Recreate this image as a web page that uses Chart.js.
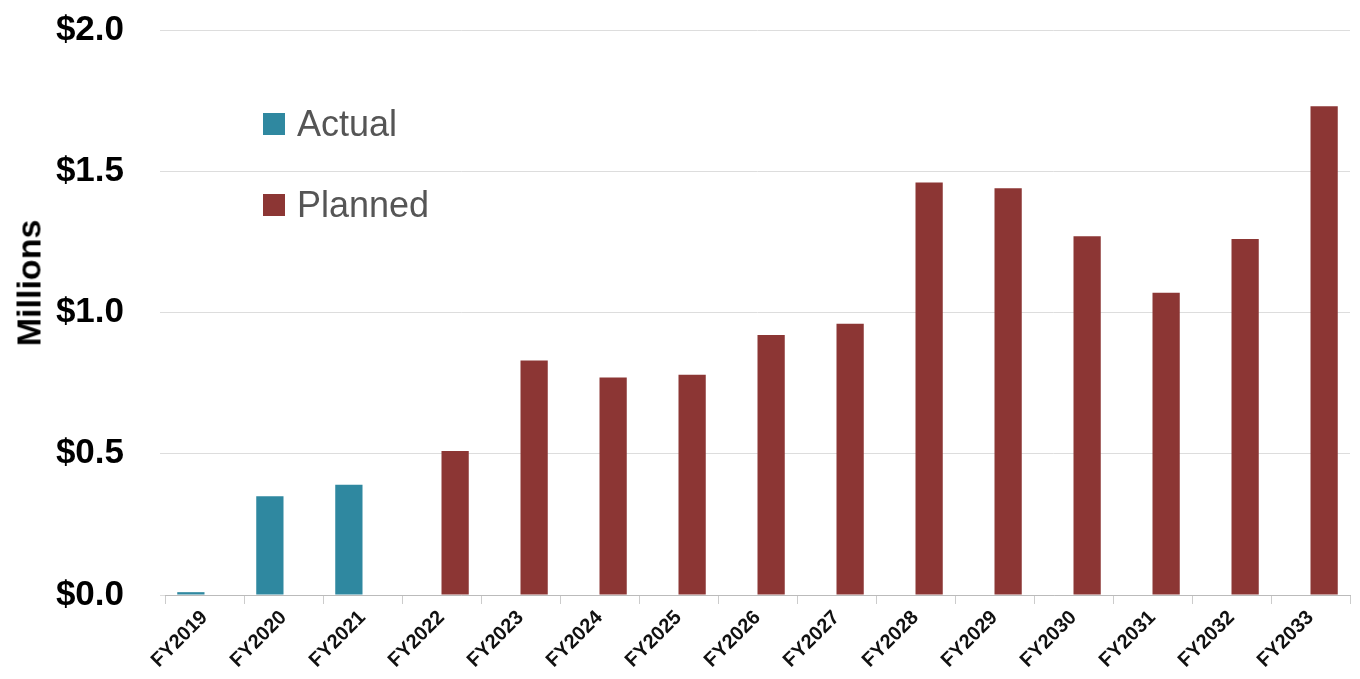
<!DOCTYPE html>
<html>
<head>
<meta charset="utf-8">
<script src="https://cdn.jsdelivr.net/npm/chart.js@4.4.1/dist/chart.umd.min.js"></script>
<style>
  body { margin: 0; background: #fff; }
  #wrap { position: relative; width: 1360px; height: 679px; }
  .legend { position: absolute; left: 263px; font-family: 'Liberation Sans', Arial, sans-serif; font-size: 36px; color: #555; display: flex; align-items: center; }
  .legend span.box { display: inline-block; width: 22px; height: 22px; margin-right: 12px; }
  #ytitle { position: absolute; left: 29px; top: 283px; transform: translate(-50%, -50%) rotate(-90deg);
            font-family: 'Liberation Sans', Arial, sans-serif; font-weight: bold; font-size: 34px; color: #000; white-space: nowrap; }
</style>
</head>
<body>
<div id="wrap">
  <canvas id="chart" width="1360" height="679"></canvas>
  <div class="legend" style="top:103px"><span class="box" style="background:#2f88a0"></span>Actual</div>
  <div class="legend" style="top:184px"><span class="box" style="background:#8c3634"></span>Planned</div>
  <div id="ytitle">Millions</div>
</div>
<script>
document.addEventListener('DOMContentLoaded', () => {

  // --- données ---
  const years = ['FY2019', 'FY2020', 'FY2021', 'FY2022', 'FY2023', 'FY2024', 'FY2025', 'FY2026',
                 'FY2027', 'FY2028', 'FY2029', 'FY2030', 'FY2031', 'FY2032', 'FY2033'];
  const actual = [0.01, 0.35, 0.39, null, null, null, null, null, null, null, null, null, null, null, null];
  const planned = [null, null, null, 0.51, 0.83, 0.77, 0.78, 0.92, 0.96, 1.46, 1.44, 1.27, 1.07, 1.26, 1.73];
  const yTicks = [0, 0.5, 1.0, 1.5, 2.0];

  const sans = "'Liberation Sans', Arial, sans-serif";

  new Chart(document.querySelector('#chart'), {
    type: 'bar',
    data: {
      labels: years,
      datasets: [
        { label: 'Actual', data: actual, backgroundColor: '#2f88a0', categoryPercentage: 0.69, barPercentage: 1.0 },
        { label: 'Planned', data: planned, backgroundColor: '#8c3634', categoryPercentage: 0.69, barPercentage: 1.0 }
      ]
    },
    options: {
      responsive: false,
      animation: false,
      layout: { padding: { top: 30, right: 10, left: 0, bottom: 0 } },
      plugins: { legend: { display: false }, tooltip: { enabled: false } },
      scales: {
        x: {
          grid: { offset: true, drawOnChartArea: false, tickLength: 9, color: '#cccccc' },
          border: { color: '#bbbbbb' },
          ticks: {
            minRotation: 45, maxRotation: 45, padding: 2, color: '#111',
            font: { family: sans, size: 20, weight: 'bold' }
          },
          afterFit: (s) => { s.height = 84; s.paddingLeft = 0; s.paddingRight = 0; }
        },
        y: {
          min: 0, max: 2,
          afterBuildTicks: (s) => { s.ticks = yTicks.map(v => ({ value: v })); },
          grid: { color: '#dddddd', tickLength: 5 },
          border: { display: false },
          ticks: {
            padding: 36, color: '#000',
            font: { family: sans, size: 35, weight: 'bold' },
            callback: (v) => '$' + Number(v).toFixed(1)
          },
          afterFit: (s) => { s.width = 165; s.paddingTop = 0; s.paddingBottom = 0; }
        }
      }
    }
  });

});
</script>
</body>
</html>
